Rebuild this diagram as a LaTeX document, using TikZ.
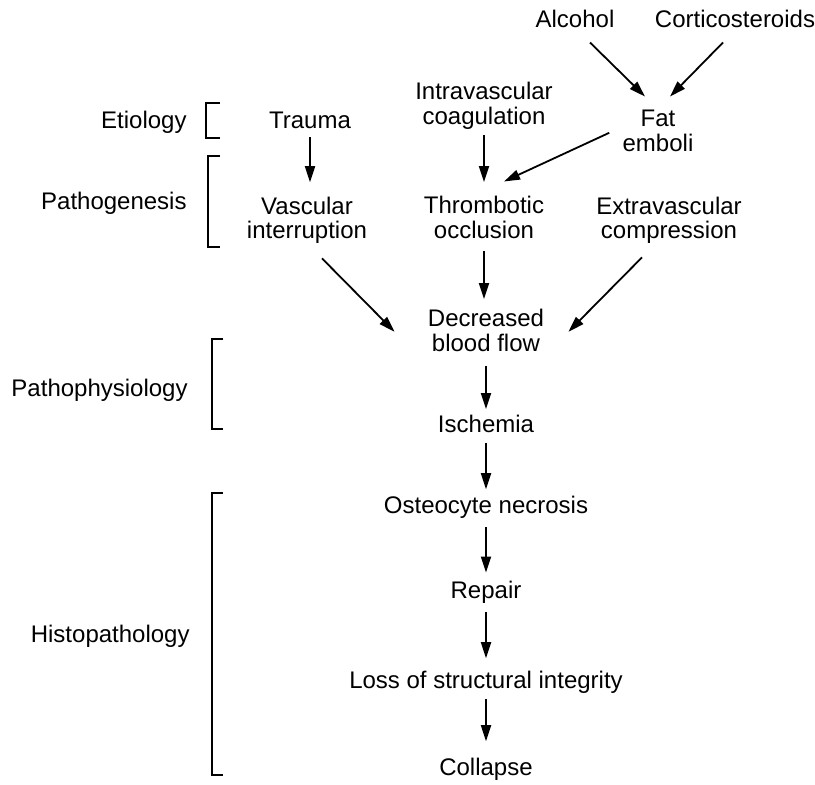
\documentclass[tikz,border=0pt]{standalone}
\usepackage{fontspec}
\setmainfont{Liberation Sans}
\usetikzlibrary{arrows.meta, calc}

\begin{document}
\begin{tikzpicture}[x=0.5pt, y=-0.5pt,
	stage/.style={align=center, inner sep=2pt,
		font=\fontsize{12}{12.5}\selectfont},
	level/.style={anchor=east, inner sep=0pt,
		font=\fontsize{12}{12.5}\selectfont},
	arr/.style={-{Triangle[length=8pt, width=5pt]}, line width=0.9pt,
		shorten <=2pt, shorten >=2pt},
	brack/.style={line width=0.6pt}
	]
	\useasboundingbox (0,0) rectangle (815,785);
	% causes
	\node[stage] (alc)   at (575,19.3)  {Alcohol};
	\node[stage] (cort)  at (735,19.3)  {Corticosteroids};
	\node[stage] (fat)   at (658,130.8) {Fat\\emboli};
	\node[stage] (trau)  at (310,120.3) {Trauma};
	\node[stage] (intra) at (484,106.3) {Intravascular\\coagulation};
	% mechanisms
	\node[stage] (vasc)  at (307,220.3) {Vascular\\interruption};
	\node[stage] (thr)   at (484,217.8) {Thrombotic\\occlusion};
	\node[stage] (ext)   at (669,220.3) {Extravascular\\compression};
	% chain
	\node[stage] (dec)   at (486,330.8) {Decreased\\blood flow};
	\node[stage] (isch)  at (486,424.3) {Ischemia};
	\node[stage] (ost)   at (486,506.8) {Osteocyte necrosis};
	\node[stage] (rep)   at (486,591.8) {Repair};
	\node[stage] (loss)  at (486,681.8) {Loss of structural integrity};
	\node[stage] (col)   at (486,768.8) {Collapse};
	% levels
	\node[level] (etio)  at (187,122.8) {Etiology};
	\node[level] (patg)  at (187,203.8) {Pathogenesis};
	\node[level] (patp)  at (188,390.8) {Pathophysiology};
	\node[level] (hist)  at (190,635.8) {Histopathology};
	\draw[brack] (220,103) -- (206,103) -- (206,138) -- (220,138);
	\draw[brack] (220,156) -- (208,156) -- (208,247) -- (220,247);
	\draw[brack] (223,339) -- (212,339) -- (212,429) -- (223,429);
	\draw[brack] (223,493) -- (212,493) -- (212,775) -- (223,775);
	% arrows
	\draw[arr, shorten <=0pt, shorten >=0pt] ($(alc.south)+(15,10)$) -- ($(fat.north)+(-13,-9)$);
	\draw[arr, shorten <=0pt, shorten >=0pt] ($(cort.south)+(-12,10)$) -- ($(fat.north)+(12,-9)$);
	\draw[arr, shorten <=0pt, shorten >=0pt] ($(fat.west)+(-9,2)$) -- ($(thr.north)+(20,-10.6)$);
	\draw[arr, shorten >=5pt] (trau) -- (trau |- vasc.north);
	\draw[arr, shorten <=0.5pt, shorten >=5pt] (intra) -- (thr);
	\draw[arr, shorten <=0pt, shorten >=0pt] ($(vasc.south)+(15,10)$) -- ($(dec.west)+(-29,1)$);
	\draw[arr, shorten <=0pt, shorten >=0pt] ($(ext.south)+(-27,9)$) -- ($(dec.east)+(20,1)$);
	\draw[arr, shorten <=3.5pt, shorten >=3pt] (thr) -- (thr |- dec.north);
	\draw[arr, shorten <=4.5pt, shorten >=1pt] (dec) -- (isch);
	\draw[arr, shorten <=2.5pt, shorten >=1pt] (isch) -- (ost);
	\draw[arr, shorten <=2.5pt, shorten >=1.8pt] (ost) -- (rep);
	\draw[arr, shorten <=2.5pt, shorten >=4pt] (rep) -- (loss);
	\draw[arr, shorten <=1pt, shorten >=6pt] (loss) -- (col);
\end{tikzpicture}
\end{document}
